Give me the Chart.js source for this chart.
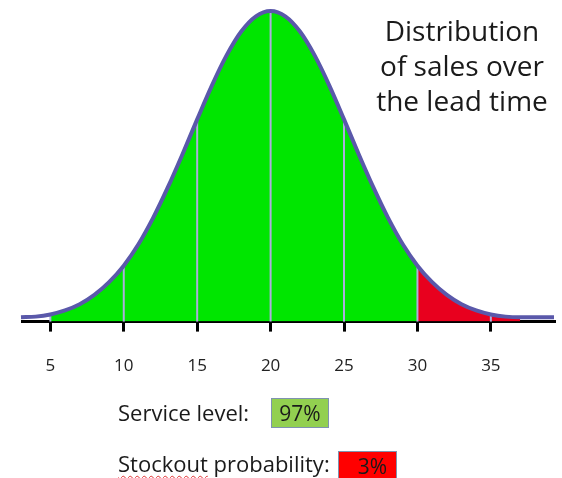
<!DOCTYPE html>
<html>
<head>
<meta charset="utf-8">
<script src="https://cdn.jsdelivr.net/npm/chart.js@4"></script>
<style>
  body { margin: 0; width: 562px; height: 478px; overflow: hidden; background: #fff; position: relative; font-family: "Open Sans", sans-serif; color: #1a1a1a; }
  #wrap { position: absolute; left: 0; top: 0; width: 562px; height: 400px; }
  .title { position: absolute; left: 352px; width: 220px; top: 13px; text-align: center; font-size: 28px; line-height: 35px; }
  .lbl { position: absolute; left: 118px; font-size: 22px; line-height: 28px; white-space: nowrap; }
  .box { position: absolute; height: 30px; font-size: 21px; line-height: 28px; box-sizing: border-box; border: 1px solid #7f93b0; }
  .squiggle { text-decoration: underline wavy #e03030; text-decoration-thickness: 1px; text-underline-offset: 3px; }
</style>
</head>
<body>
<div id="wrap"><canvas id="chart"></canvas></div>
<div class="title">Distribution<br>of sales over<br>the lead time</div>
<div class="lbl" style="top:398px">Service level:</div>
<div class="box" id="slBox" style="left:271px;top:398px;width:58px;background:#92d050;text-align:center"></div>
<div class="lbl" style="top:449px"><span class="squiggle">Stockout</span> probability:</div>
<div class="box" id="soBox" style="left:338px;top:451px;width:59px;background:#ff0000;text-align:right;padding-right:9px"></div>
<script>
// values (curve height, peak = 100)
const curveX = [3, 4, 5, 6, 7, 8, 9, 10, 11, 12, 13, 14, 15, 16, 17, 18, 19, 20, 21, 22, 23, 24, 25, 26, 27, 28, 29, 30, 31, 32, 33, 34, 35, 36, 37, 38, 39.3];
const curveY = [1.4, 1.6, 2.3, 3.6, 5.6, 8.6, 12.7, 18.0, 24.9, 33.4, 43.2, 53.9, 65.1, 76.0, 85.7, 93.4, 98.3, 100, 98.3, 93.4, 85.7, 76.0, 65.1, 53.9, 43.2, 33.4, 24.9, 18.0, 12.7, 8.6, 5.6, 3.6, 2.3, 1.6, 1.4, 1.4, 1.4];
const tickValues = [5, 10, 15, 20, 25, 30, 35];
const fillStart = 5;
const splitAt = 30;
const fillEnd = 37;
const serviceLevel = '97%';
const stockoutProb = '3%';

document.getElementById('slBox').textContent = serviceLevel;
document.getElementById('soBox').textContent = stockoutProb;

const points = curveX.map((x, i) => ({ x, y: curveY[i] }));
const greenPts = points.filter((p) => p.x >= fillStart && p.x <= splitAt);
const redPts = points.filter((p) => p.x >= splitAt && p.x <= fillEnd);

const gridSets = tickValues.map((v) => ({
  data: [{ x: v, y: 0 }, { x: v, y: curveY[curveX.indexOf(v)] }],
  borderColor: '#adadde',
  borderWidth: 2,
  pointRadius: 0,
  tension: 0,
  fill: false,
  clip: false,
  order: 1,
}));

const areaStyle = { borderWidth: 0, pointRadius: 0, fill: 'origin', cubicInterpolationMode: 'monotone', clip: false, order: 2 };

new Chart(document.getElementById('chart'), {
  type: 'line',
  data: {
    datasets: [
      { data: points, borderColor: '#5a58aa', borderWidth: 4, pointRadius: 0, fill: false, cubicInterpolationMode: 'monotone', clip: false, order: 0 },
      ...gridSets,
      { data: greenPts, backgroundColor: '#00e600', ...areaStyle },
      { data: redPts, backgroundColor: '#e8001e', ...areaStyle },
    ],
  },
  options: {
    responsive: true,
    maintainAspectRatio: false,
    animation: false,
    layout: { padding: { left: 22, right: 8, top: 11, bottom: 0 } },
    plugins: { legend: { display: false }, tooltip: { enabled: false } },
    scales: {
      x: {
        type: 'linear',
        min: 3.07,
        max: 39.3,
        z: 1,
        afterBuildTicks: (axis) => { axis.ticks = tickValues.map((v) => ({ value: v })); },
        border: { color: '#000', width: 3 },
        grid: { drawOnChartArea: false, drawTicks: true, tickLength: 10, color: '#000', lineWidth: 3 },
        ticks: { color: '#222', font: { size: 17, family: 'Open Sans' }, padding: 24, maxRotation: 0 },
      },
      y: { display: false, min: 0, max: 100 },
    },
  },
});
</script>
</body>
</html>
